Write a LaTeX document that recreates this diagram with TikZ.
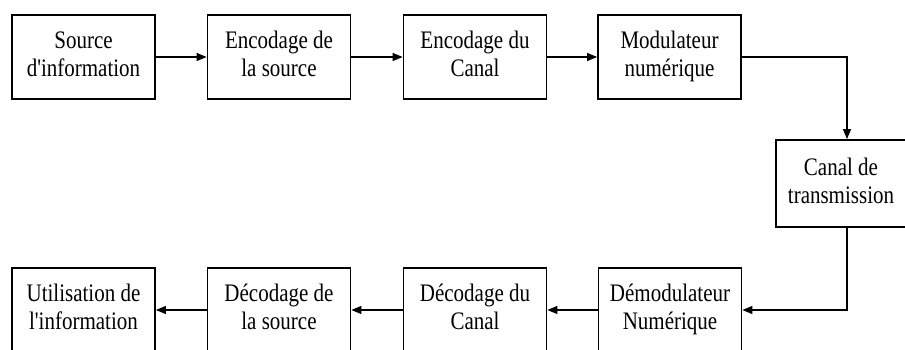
\documentclass[tikz,border=0pt]{standalone}
\usepackage{fontspec}
\setmainfont{Liberation Serif}
\usetikzlibrary{arrows.meta,calc}
\newcommand{\twol}[2]{\scalebox{1}[1.2]{\begin{tabular}{@{}c@{}}#1\\#2\end{tabular}}}
\tikzset{
  blk/.style={draw, line width=1.8pt, minimum width=143pt, minimum height=84pt, inner sep=0pt,
    font=\fontsize{21}{23.3}\selectfont, align=center},
  conn/.style={line width=1.1pt, -{Triangle[length=10pt,width=8pt]}}
}
\begin{document}
\begin{tikzpicture}[x=1pt,y=-1pt]
\useasboundingbox (0,0) rectangle (905,350);
\node[blk] (src)  at (83.5,57) {\twol{Source}{d\textquotesingle information}};
\node[blk] (encs) at (279,57) {\twol{Encodage de}{la source}};
\node[blk] (encc) at (475,57) {\twol{Encodage du}{Canal}};
\node[blk] (mod)  at (669.5,57) {\twol{Modulateur}{numérique}};
\node[blk, minimum width=130pt, minimum height=87pt] (can) at (841,183.5) {\twol{Canal de}{transmission}};
\node[blk] (util) at (83.5,310) {\twol{Utilisation de}{l\textquotesingle information}};
\node[blk] (decs) at (279,310) {\twol{Décodage de}{la source}};
\node[blk] (decc) at (475,310) {\twol{Décodage du}{Canal}};
\node[blk] (dem)  at (670,310) {\twol{Démodulateur}{Numérique}};
\coordinate (cin) at ($(can.north)+(6,0)$);
\coordinate (cout) at ($(can.south)+(6,0)$);
\draw[conn] (src) -- (encs);
\draw[conn] (encs) -- (encc);
\draw[conn] (encc) -- (mod);
\draw[conn] (mod.east) -| (cin);
\draw[conn] (cout) |- (dem.east);
\draw[conn] (dem) -- (decc);
\draw[conn] (decc) -- (decs);
\draw[conn] (decs) -- (util);
\end{tikzpicture}
\end{document}
